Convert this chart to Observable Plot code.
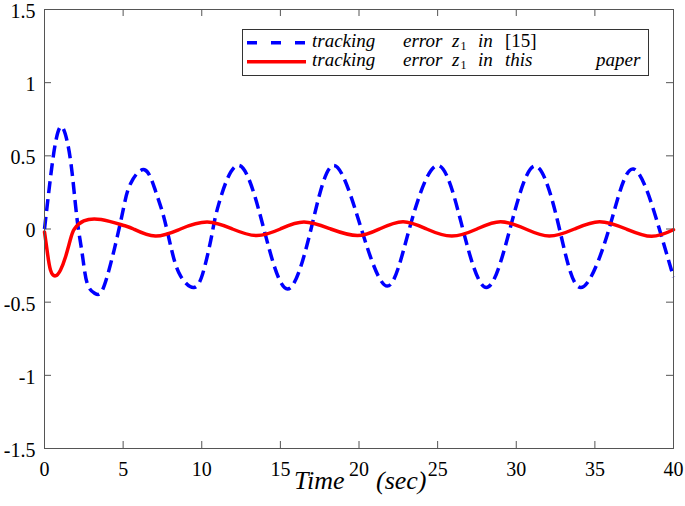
<!DOCTYPE html>
<html>
<head>
<meta charset="utf-8">
<script src="https://cdn.jsdelivr.net/npm/d3@7"></script>
<script src="https://cdn.jsdelivr.net/npm/@observablehq/plot@0.6"></script>
<style>
  body { margin: 0; background: #fff; }
  #wrap { position: relative; width: 685px; height: 506px; background: #fff; overflow: hidden; }
  #legend { position: absolute; left: 242px; top: 29px; width: 407px; height: 47px; box-sizing: border-box; border: 1px solid #333; background: #fff; }
  .xword { position: absolute; top: 468px; font-family: 'Liberation Serif'; font-style: italic; font-size: 26px; line-height: 26px; color: #000; white-space: nowrap; }
</style>
</head>
<body>
<div id="wrap"></div>
<script>
// ---- data ----
const time15 = [0, 0.38, 0.7, 1.06, 1.44, 1.76, 2.08, 2.4, 2.71, 3.2, 3.67, 4.2, 4.62, 5.04, 5.47, 6.36, 7.06, 7.59, 8.1, 8.65, 9.5, 10.13, 10.66, 11.08,
                12.4, 13.95, 15.45, 16.95, 18.4, 20.15, 21.8, 23.2, 25.0, 26.6, 28.1, 29.6, 31.2, 32.75, 34.1, 35.9, 37.45, 39.1, 40];
const err15  = [0, 0.35, 0.59, 0.70, 0.60, 0.38, 0.06, -0.17, -0.37, -0.44, -0.42, -0.24, -0.056, 0.15, 0.31, 0.405, 0.26, 0.08, -0.15, -0.32, -0.40, -0.28, -0.03, 0.17,
                0.434, 0.0, -0.41, 0.0, 0.434, 0.0, -0.39, 0.0, 0.434, 0.0, -0.40, 0.0, 0.43, 0.0, -0.40, 0.0, 0.41, 0.0, -0.33];

const timeOurs = [0, 0.17, 0.38, 0.7, 1.02, 1.34, 1.65, 1.9, 2.5, 3.6, 5.04, 5.66, 7.05, 8.65, 10.35, 11.95, 13.5, 15.0, 16.5, 18.2, 19.9, 21.3,
                  22.8, 24.3, 25.9, 27.5, 29.0, 30.6, 32.1, 33.7, 35.3, 37.0, 38.6, 40];
const errOurs  = [-0.02, -0.15, -0.28, -0.32, -0.28, -0.19, -0.07, 0.0, 0.055, 0.065, 0.024, 0.0, -0.048, 0.0, 0.047, 0.0, -0.045, 0.0, 0.047, 0.0, -0.045, 0.0,
                  0.05, 0.0, -0.048, 0.0, 0.05, 0.0, -0.048, 0.0, 0.05, 0.0, -0.05, -0.005];

const xTicks = [0, 5, 10, 15, 20, 25, 30, 35, 40];
const xTickLabels = ["0", "5", "10", "15", "20", "25", "30", "35", "40"];
const yTicks = [-1.5, -1, -0.5, 0, 0.5, 1, 1.5];
const yTickLabels = ["-1.5", "-1", "-0.5", "0", "0.5", "1", "1.5"];

const xTitleWords = ["Time", "(sec)"];
const legendRows = [
  { words: ["tracking", "error", "z", "in", "[15]"], color: "#0000ff", dash: "10,14" },
  { words: ["tracking", "error", "z", "in", "this", "paper"], color: "#ff0000", dash: null }
];

// ---- layout ----
const W = 685, H = 506, mL = 44, mR = 12, mT = 9, mB = 58;
const pw = W - mL - mR, ph = H - mT - mB, tk = 7;
const axisColor = "#555";
const FONT = "Liberation Serif";

const blue = time15.map((t, i) => ({ t, v: err15[i] }));
const red = timeOurs.map((t, i) => ({ t, v: errOurs[i] }));

const wrap = document.getElementById("wrap");
const chart = Plot.plot({
  width: W, height: H,
  marginLeft: mL, marginRight: mR, marginTop: mT, marginBottom: mB,
  x: { domain: [0, 40] },
  y: { domain: [-1.5, 1.5] },
  style: { fontFamily: FONT, fontSize: "20px", color: "#000", background: "#fff", overflow: "visible" },
  marks: [
    Plot.tickX(xTicks, { x: d => d, insetTop: ph - tk, stroke: axisColor }),
    Plot.tickX(xTicks, { x: d => d, insetBottom: ph - tk, stroke: axisColor }),
    Plot.tickY(yTicks, { y: d => d, insetRight: pw - tk, stroke: axisColor }),
    Plot.tickY(yTicks, { y: d => d, insetLeft: pw - tk, stroke: axisColor }),
    Plot.line(blue, { x: "t", y: "v", stroke: "#0000ff", strokeWidth: 3.5, strokeDasharray: "12,6", strokeLinecap: "butt", curve: "natural" }),
    Plot.line(red, { x: "t", y: "v", stroke: "#ff0000", strokeWidth: 3.5, curve: "natural" }),
    Plot.frame({ stroke: axisColor }),
    Plot.axisX({ ticks: xTicks, tickSize: 0, tickPadding: 13, tickFormat: d => xTickLabels[xTicks.indexOf(d)], label: null }),
    Plot.axisY({ ticks: yTicks, tickSize: 0, tickPadding: 9, dy: 2, tickFormat: d => yTickLabels[yTicks.indexOf(d)], label: null })
  ]
});
wrap.appendChild(chart);
d3.select(chart).selectAll("text").attr("font-family", FONT);

// x title (two words placed as in the reference)
const xWordLeft = [294, 376];
xTitleWords.forEach((w, i) => {
  const s = document.createElement("div");
  s.className = "xword";
  s.style.left = xWordLeft[i] + "px";
  s.textContent = w;
  wrap.appendChild(s);
});

// legend
const lg = document.createElement("div");
lg.id = "legend";
const ns = "http://www.w3.org/2000/svg";
const ls = document.createElementNS(ns, "svg");
ls.setAttribute("width", 405); ls.setAttribute("height", 45);
ls.style.position = "absolute"; ls.style.left = "0"; ls.style.top = "0";
const wordX = [69, 160, 209, 235, 262, 353];
const rowBase = [17, 36], rowLine = [12.7, 31.7];
legendRows.forEach((row, r) => {
  const ln = document.createElementNS(ns, "line");
  ln.setAttribute("x1", 4); ln.setAttribute("x2", 63);
  ln.setAttribute("y1", rowLine[r]); ln.setAttribute("y2", rowLine[r]);
  ln.setAttribute("stroke", row.color); ln.setAttribute("stroke-width", 3.5);
  if (row.dash) ln.setAttribute("stroke-dasharray", row.dash);
  ls.appendChild(ln);
  row.words.forEach((w, i) => {
    const t = document.createElementNS(ns, "text");
    t.setAttribute("x", wordX[i]); t.setAttribute("y", rowBase[r]);
    t.setAttribute("font-family", FONT);
    t.setAttribute("font-size", 19);
    t.setAttribute("fill", "#000");
    if (w === "[15]") {
      t.textContent = w;
    } else if (w === "z") {
      t.setAttribute("font-style", "italic");
      t.textContent = "z";
      const s = document.createElementNS(ns, "tspan");
      s.setAttribute("font-style", "normal");
      s.setAttribute("font-size", 12);
      s.setAttribute("dy", 3);
      s.setAttribute("dx", 1);
      s.textContent = "1";
      t.appendChild(s);
    } else {
      t.setAttribute("font-style", "italic");
      t.textContent = w;
    }
    ls.appendChild(t);
  });
});
lg.appendChild(ls);
wrap.appendChild(lg);
</script>
</body>
</html>
